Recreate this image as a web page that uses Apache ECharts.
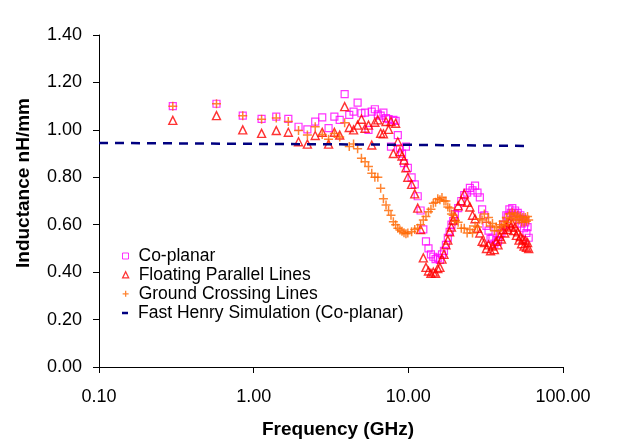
<!DOCTYPE html>
<html>
<head>
<meta charset="utf-8">
<script src="https://cdn.jsdelivr.net/npm/echarts@6/dist/echarts.min.js"></script>
<style>
  html, body { margin: 0; padding: 0; background: #fff; }
  #chart { width: 619px; height: 441px; }
</style>
</head>
<body>
<div id="chart"></div>
<script>
// Frequencies in GHz
var freq = [0.3,0.575,0.85,1.125,1.4,1.675,1.95,2.225,2.5,2.775,3.05,3.325,3.6,3.875,4.15,4.425,4.7,4.975,5.25,5.525,5.8,6.075,6.35,6.625,6.9,7.175,7.45,7.725,8.0,8.275,8.55,8.825,9.1,9.375,9.65,9.925,
  10.5,11,11.5,12,12.5,13,13.5,14,14.5,15,15.5,16,16.5,17,17.5,18,18.5,19,19.5,20,
  21,22,23,24,25,26,27,28,29,30,31,32,33,34,35,36,37,38,39,40,41,42,43,44,45,46,47,48,49,50,51,52,53,54,55,56,57,58,59,60];

var coplanar = [1.10,1.11,1.06,1.046,1.056,1.046,1.013,1.002,1.035,1.053,1.007,1.056,1.042,1.151,1.063,1.077,1.115,1.07,1.073,1.0,1.077,1.087,1.065,1.06,1.073,1.05,1.045,0.929,1.042,1.038,0.978,0.922,0.90,0.86,0.929,0.84,
  0.80,0.77,0.72,0.66,0.58,0.53,0.50,0.475,0.465,0.455,0.46,0.452,0.475,0.49,0.515,0.545,0.57,0.60,0.615,0.645,
  0.67,0.70,0.725,0.735,0.755,0.745,0.765,0.735,0.715,0.665,0.64,0.595,0.575,0.54,0.545,0.52,0.535,0.53,0.56,0.565,0.60,0.60,0.64,0.635,0.665,0.65,0.67,0.65,0.66,0.635,0.65,0.62,0.64,0.605,0.625,0.585,0.61,0.565,0.59,0.545];

var floating = [1.04,1.06,1.0,0.985,0.997,0.99,0.95,0.94,0.976,0.99,0.94,0.99,0.978,1.098,1.01,1.0,1.02,1.045,1.007,1.02,0.936,1.032,1.042,0.986,0.983,1.035,1.002,1.035,0.90,1.028,0.95,0.908,0.89,0.873,0.84,0.80,
  0.77,0.73,0.67,0.58,0.46,0.42,0.405,0.395,0.40,0.395,0.415,0.42,0.455,0.475,0.515,0.535,0.57,0.59,0.62,0.635,
  0.68,0.70,0.73,0.695,0.675,0.64,0.625,0.585,0.565,0.53,0.525,0.50,0.515,0.49,0.51,0.495,0.53,0.515,0.55,0.54,0.58,0.565,0.595,0.58,0.61,0.59,0.605,0.575,0.59,0.555,0.57,0.535,0.55,0.52,0.54,0.51,0.535,0.505,0.525,0.50];

var ground = [1.10,1.11,1.06,1.045,1.05,1.035,0.997,0.978,1.013,0.98,0.96,0.985,0.97,1.03,0.93,0.94,0.92,0.88,0.866,0.845,0.817,0.80,0.80,0.754,0.71,0.683,0.66,0.64,0.613,0.60,0.585,0.578,0.572,0.566,0.562,0.565,
  0.57,0.58,0.585,0.60,0.62,0.635,0.655,0.665,0.69,0.695,0.71,0.705,0.715,0.70,0.70,0.675,0.67,0.645,0.64,0.615,
  0.61,0.585,0.585,0.565,0.58,0.565,0.595,0.59,0.625,0.62,0.645,0.61,0.63,0.595,0.605,0.575,0.59,0.575,0.60,0.59,0.615,0.60,0.63,0.61,0.645,0.625,0.65,0.63,0.645,0.62,0.64,0.62,0.635,0.61,0.63,0.61,0.63,0.615,0.635,0.62];

var henryFreq = [0.1, 1, 10, 62];
var henryVal = [0.945, 0.941, 0.937, 0.932];

var seriesNames = ['Co-planar', 'Floating Parallel Lines', 'Ground Crossing Lines', 'Fast Henry Simulation (Co-planar)'];

function pairs(xs, ys) { return xs.map(function (x, i) { return [x, ys[i]]; }); }

var FONT = '"Liberation Sans", Arial, sans-serif';
var plusPath = 'path://M5,0L5,10M0,5L10,5';

var chart = echarts.init(document.getElementById('chart'), null, { renderer: 'canvas' });

function legendRow(name, top, icon, w, h, itemStyle) {
  return {
    data: [{ name: name, icon: icon }],
    left: 122, top: top, padding: 0,
    itemWidth: w, itemHeight: h,
    itemStyle: itemStyle,
    selectedMode: false,
    textStyle: { fontFamily: FONT, fontSize: 17.5, color: '#000', lineHeight: 19, padding: [0, 0, 0, 5] }
  };
}

chart.setOption({
  animation: false,
  backgroundColor: '#fff',
  grid: { left: 99, right: 56, top: 35, bottom: 74, containLabel: false, outerBoundsMode: 'none' },
  legend: [
    legendRow(seriesNames[0], 246.5, 'rect', 6, 6, { color: 'rgba(0,0,0,0)', borderColor: '#FF00FF', borderWidth: 1 }),
    legendRow(seriesNames[1], 265.3, 'triangle', 6, 6, { color: 'rgba(0,0,0,0)', borderColor: '#FF0000', borderWidth: 1.3 }),
    legendRow(seriesNames[2], 284.3, plusPath, 6, 6, { color: 'rgba(0,0,0,0)', borderColor: '#FF6600', borderWidth: 1.3 }),
    legendRow(seriesNames[3], 303.5, 'rect', 6, 2.5, { color: '#000080', borderWidth: 0 })
  ],
  xAxis: {
    type: 'log', logBase: 10, min: 0.1, max: 100,
    name: 'Frequency (GHz)', nameLocation: 'middle', nameGap: 53,
    nameTextStyle: { fontFamily: FONT, fontSize: 19, fontWeight: 'bold', color: '#000', padding: [0, 0, 0, 14] },
    axisLine: { show: true, onZero: false, lineStyle: { color: '#000', width: 1 } },
    axisTick: { show: true, length: 6, lineStyle: { color: '#000' } },
    minorTick: { show: false },
    splitLine: { show: false },
    axisLabel: { fontFamily: FONT, fontSize: 18, color: '#000', margin: 21,
      formatter: function (v) { return Number(v).toFixed(2); } }
  },
  yAxis: {
    type: 'value', min: 0, max: 1.4, interval: 0.2,
    name: 'Inductance nH/mm', nameLocation: 'middle', nameGap: 66, nameRotate: 90,
    nameTextStyle: { fontFamily: FONT, fontSize: 19, fontWeight: 'bold', color: '#000', padding: [0, 0, 0, 36] },
    axisLine: { show: true, lineStyle: { color: '#000', width: 1 } },
    axisTick: { show: true, length: 6, lineStyle: { color: '#000' } },
    splitLine: { show: false },
    axisLabel: { fontFamily: FONT, fontSize: 18, color: '#000', margin: 17,
      formatter: function (v) { return v.toFixed(2); } }
  },
  series: [
    {
      name: seriesNames[0], type: 'scatter', data: pairs(freq, coplanar),
      symbol: 'rect', symbolSize: 7, z: 2,
      itemStyle: { color: 'rgba(0,0,0,0)', borderColor: '#FF00FF', borderWidth: 1.2 }
    },
    {
      name: seriesNames[1], type: 'scatter', data: pairs(freq, floating),
      symbol: 'triangle', symbolSize: 8, z: 3,
      itemStyle: { color: 'rgba(0,0,0,0)', borderColor: '#FF0000', borderWidth: 1.4 }
    },
    {
      name: seriesNames[2], type: 'scatter', data: pairs(freq, ground),
      symbol: plusPath, symbolSize: 9, z: 4,
      itemStyle: { color: 'rgba(0,0,0,0)', borderColor: '#FF6600', borderWidth: 1.5 }
    },
    {
      name: seriesNames[3], type: 'line', data: pairs(henryFreq, henryVal),
      showSymbol: false, symbol: 'none', z: 5, color: '#000080',
      lineStyle: { color: '#000080', width: 2.5, type: [9, 7] }
    }
  ]
});
</script>
</body>
</html>
